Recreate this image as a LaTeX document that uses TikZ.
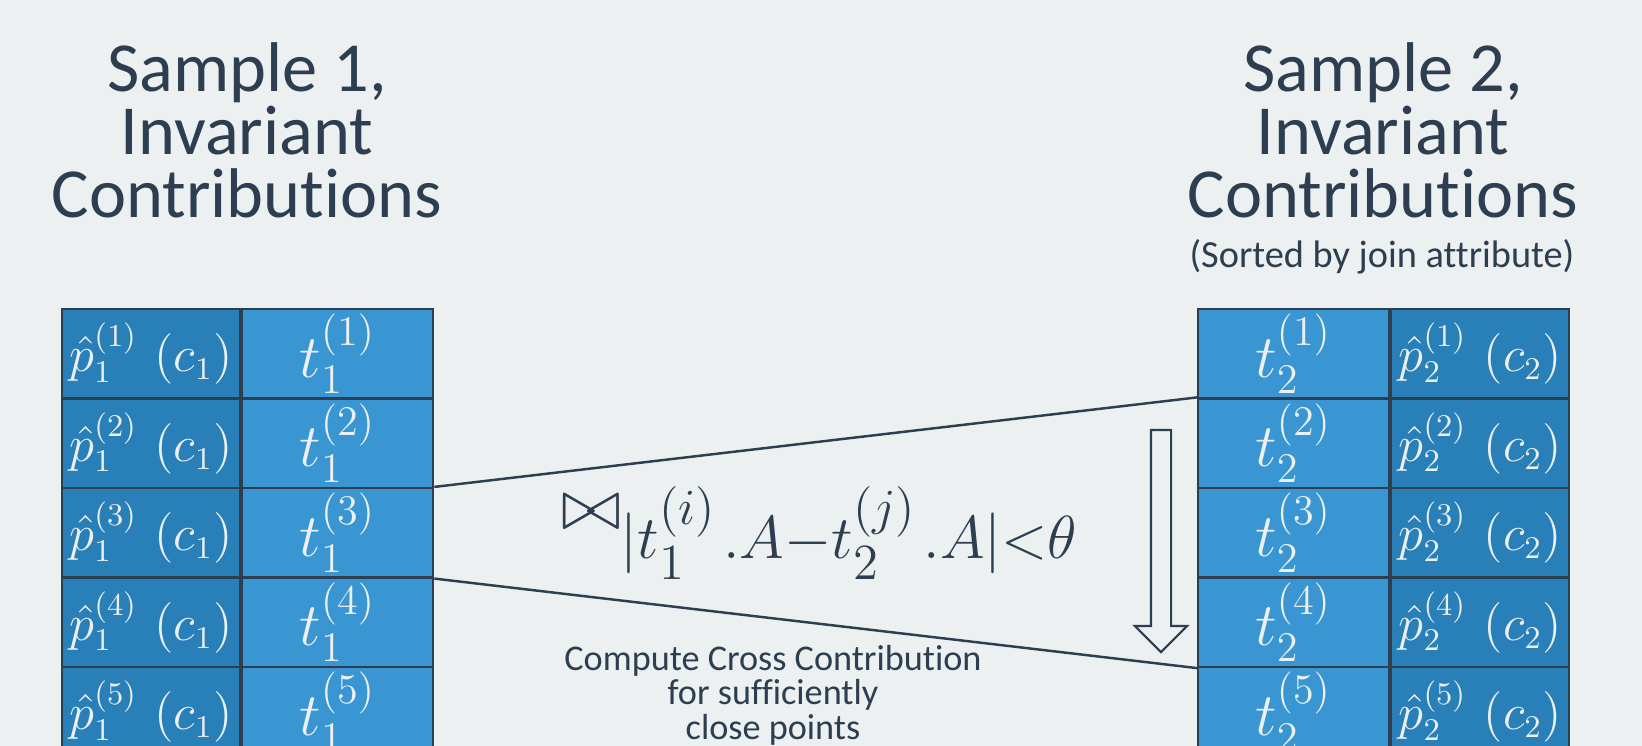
\documentclass[tikz,border=0pt]{standalone}
\usepackage{amsmath, amssymb}
\usepackage{fontspec}
\setmainfont{Carlito}[Ligatures={NoCommon}]
\usepackage{tikz}
\usetikzlibrary{shapes.arrows, positioning}
\DeclareMathSizes{22}{22}{16}{13.5}
\definecolor{bggray}{RGB}{236, 240, 241}
\definecolor{inkblue}{RGB}{44, 62, 80}
\definecolor{probblue}{RGB}{41, 128, 185}
\definecolor{tupleblue}{RGB}{58, 150, 210}
\definecolor{celltext}{RGB}{236, 240, 241}

\begin{document}
\begin{tikzpicture}[x=0.01cm, y=-0.01cm, every node/.style={text=inkblue},
        cell/.style={draw=inkblue, line width=0.6pt, minimum height=0.895cm, inner sep=0pt, text=celltext},
        pcell/.style={cell, fill=probblue, minimum width=1.78cm, font=\fontsize{13.4}{16}\selectfont},
        tcell/.style={cell, fill=tupleblue, minimum width=1.91cm, font=\fontsize{16.8}{20}\selectfont},
        title/.style={align=center, anchor=north, inner sep=0pt, font=\fontsize{20}{17.9}\selectfont},
        joinline/.style={inkblue, line width=0.7pt}]
        \useasboundingbox (0,0) rectangle (1642,746);
        \clip (0,0) rectangle (1642,746);
        \fill[bggray] (0,0) rectangle (1642,746);

        \node[title] (title1) at (247,42) {Sample 1,\\Invariant\\Contributions};
        \node[title] (title2) at (1383,42) {Sample 2,\\Invariant\\Contributions};
        \node[anchor=base, inner sep=0pt, font=\fontsize{10.9}{13}\selectfont] (sortnote) at (1382,268) {(Sorted by join attribute)};

        % both samples, one row per tuple
        \foreach \i in {1,...,5} {
            \node[pcell] (pa\i) at (151,264.25+89.5*\i) {$\hat{p}_1^{(\i)}\,\left(c_1\right)$};
            \node[tcell, right=0pt of pa\i] (ta\i) {$t_1^{(\i)}$};
            \node[tcell] (tb\i) at (1293.5,264.25+89.5*\i) {$t_2^{(\i)}$};
            \node[pcell, right=0pt of tb\i] (pb\i) {$\hat{p}_2^{(\i)}\,\left(c_2\right)$};
        }

        \draw[joinline] (ta3.north east) -- (tb2.north west);
        \draw[joinline] (ta3.south east) -- (tb4.south west);

        \node[anchor=base west, font=\fontsize{22}{26}\selectfont, inner sep=0pt] (joincond) at (561,530) {$\bowtie_{\smash[t]{\raisebox{-5pt}{$\scriptstyle|t_1^{(i)}\mkern2mu.A-t_2^{(j)}\mkern2mu.A|<\theta$}}}$};
        \node[draw=inkblue, line width=0.6pt, single arrow, rotate=-90, minimum height=2.22cm, inner xsep=0pt, inner ysep=0.09cm, single arrow head extend=0.16cm] (scan) at (1161,536) {};
        \node[align=center, anchor=north, inner sep=0pt, font=\fontsize{10.3}{9.7}\selectfont] (crossnote) at (773,645) {Compute Cross Contribution\\for sufficiently\\close points};
    \end{tikzpicture}
\end{document}
